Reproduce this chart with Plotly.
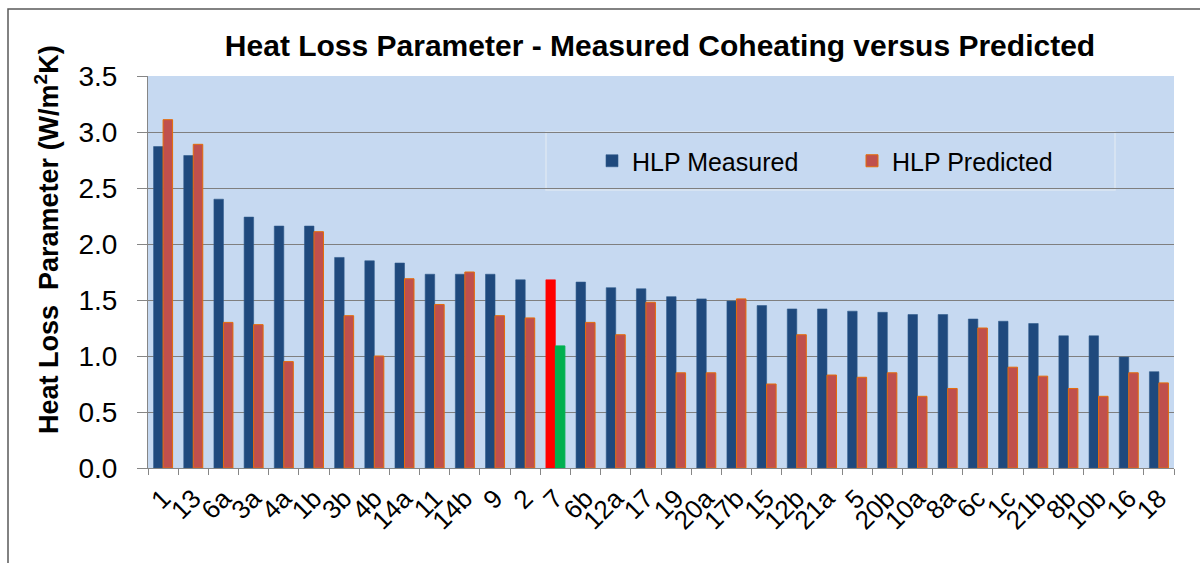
import plotly.graph_objects as go

categories = ["1", "13", "6a", "3a", "4a", "1b", "3b", "4b", "14a", "11", "14b", "9", "2", "7",
              "6b", "12a", "17", "19", "20a", "17b", "15", "12b", "21a", "5", "20b", "10a",
              "8a", "6c", "1c", "21b", "8b", "10b", "16", "18"]
hlp_measured = [2.87, 2.79, 2.40, 2.24, 2.16, 2.16, 1.88, 1.85, 1.83, 1.73, 1.73, 1.73, 1.68, 1.68,
                1.66, 1.61, 1.60, 1.53, 1.51, 1.49, 1.45, 1.42, 1.42, 1.40, 1.39, 1.37,
                1.37, 1.33, 1.31, 1.29, 1.18, 1.18, 0.99, 0.86]
hlp_predicted = [3.11, 2.89, 1.30, 1.28, 0.95, 2.11, 1.36, 1.00, 1.69, 1.46, 1.75, 1.36, 1.34, 1.09,
                 1.30, 1.19, 1.48, 0.85, 0.85, 1.51, 0.75, 1.19, 0.83, 0.81, 0.85, 0.64,
                 0.71, 1.25, 0.90, 0.82, 0.71, 0.64, 0.85, 0.76]
highlight_category = "7"

BLUE = "#1F497D"
RED_FILL = "#C0504D"
ORANGE_EDGE = "#E46C0A"
PLOT_BG = "#C6D9F1"

meas_colors = ["#FF0000" if c == highlight_category else BLUE for c in categories]
meas_lines = ["#FF0000" if c == highlight_category else "#2F5A8C" for c in categories]
pred_colors = ["#00B050" if c == highlight_category else RED_FILL for c in categories]
pred_lines = ["#00B050" if c == highlight_category else ORANGE_EDGE for c in categories]

fig = go.Figure()
fig.add_trace(go.Bar(
    x=categories, y=hlp_measured, name="HLP Measured",
    marker=dict(color=meas_colors, line=dict(color=meas_lines, width=0.6)),
))
fig.add_trace(go.Bar(
    x=categories, y=hlp_predicted, name="HLP Predicted",
    marker=dict(color=pred_colors, line=dict(color=pred_lines, width=1)),
))

FONT = "Liberation Sans, Arial, sans-serif"

L, R, T, B = 148, 26, 76, 95
PW, PH = 1200 - L - R, 563 - T - B


def px_x(x):
    return (x - L) / PW


def px_y(y):
    return (563 - B - y) / PH


fig.update_layout(
    width=1200, height=563,
    autosize=False,
    margin=dict(l=L, r=R, t=T, b=B, pad=0),
    paper_bgcolor="white",
    plot_bgcolor=PLOT_BG,
    barmode="group",
    bargap=0.37,
    bargroupgap=0.0,
    font=dict(family=FONT, color="black"),
    title=dict(
        text="<b>Heat Loss Parameter - Measured Coheating versus Predicted</b>",
        font=dict(size=30, family=FONT, color="black"),
        x=660 / 1200, xanchor="center",
        y=1 - 45 / 563, yanchor="middle",
    ),
    showlegend=True,
    legend=dict(
        orientation="h",
        x=px_x(592), xanchor="left",
        y=px_y(161), yanchor="middle",
        bgcolor="rgba(0,0,0,0)",
        borderwidth=0,
        font=dict(size=25, family=FONT, color="black"),
        entrywidth=215, entrywidthmode="pixels",
        traceorder="normal",
    ),
    xaxis=dict(
        type="category",
        tickmode="linear", tick0=0, dtick=1,
        tickangle=-45,
        tickfont=dict(size=26, family=FONT, color="black"),
        ticks="outside", ticklen=6, tickcolor="#868686",
        tickson="boundaries",
        ticklabelstandoff=4,
        showline=True, linecolor="#868686", linewidth=1,
        showgrid=False,
        automargin=False,
    ),
    yaxis=dict(
        range=[0, 3.5],
        dtick=0.5,
        tickformat=".1f",
        tickfont=dict(size=28, family=FONT, color="black"),
        ticks="outside", ticklen=10, tickcolor="#868686",
        ticklabelstandoff=14,
        showline=True, linecolor="#868686", linewidth=1,
        showgrid=True, gridcolor="#7F7F7F", gridwidth=1,
        zeroline=False,
        automargin=False,
    ),
    shapes=[
        # legend box
        dict(type="rect", xref="paper", yref="paper",
             x0=px_x(546), x1=px_x(1115),
             y0=px_y(190), y1=px_y(132),
             fillcolor=PLOT_BG, line=dict(color="#DCE6F2", width=1.5),
             layer="between"),
        # chart outer border
        dict(type="rect", xref="paper", yref="paper",
             x0=px_x(8), x1=px_x(1230),
             y0=px_y(600), y1=px_y(9),
             fillcolor="rgba(0,0,0,0)", line=dict(color="#595959", width=1.5),
             layer="below"),
    ],
    annotations=[
        dict(text="<b>Heat Loss  Parameter (W/m<sup>2</sup>K)</b>",
             xref="paper", yref="paper",
             x=px_x(47), y=px_y(240),
             xanchor="center", yanchor="middle",
             textangle=-90, showarrow=False,
             font=dict(size=27, family=FONT, color="black")),
    ],
)

fig.write_html(
    "out.html",
    config={"displayModeBar": False},
    post_script="document.body.style.margin='0';document.body.style.overflow='hidden';",
)
